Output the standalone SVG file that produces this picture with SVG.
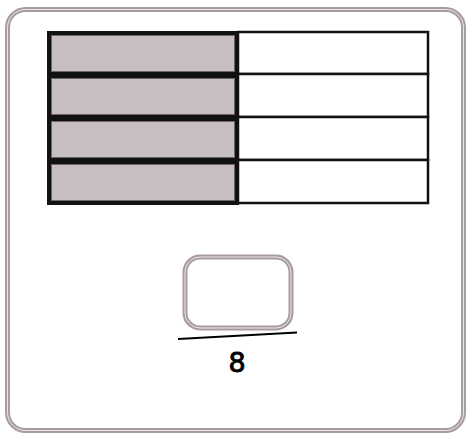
<svg xmlns="http://www.w3.org/2000/svg" width="468" height="434" viewBox="0 0 468 434">
<style>
.frame{fill:none;stroke:#a89c9c;stroke-width:5}
.frameIn{fill:none;stroke:#ece8e8;stroke-width:1}
.lc{fill:#c8c0c0;stroke:#111;stroke-width:4}
.lcIn{fill:none;stroke:#6e6666;stroke-width:1}
.rc{fill:#fff;stroke:#111;stroke-width:2.5}
.lbl{font-family:"DejaVu Sans","Liberation Sans",sans-serif;font-size:27px;fill:#000;stroke:#000;stroke-width:0.9;text-anchor:middle}
</style>
<rect width="468" height="434" fill="#fff"/>
<g id="frame">
<rect class="frame" x="7.5" y="9.5" width="456" height="421" rx="18"/>
<rect class="frameIn" x="7.5" y="9.5" width="456" height="421" rx="18"/>
</g>
<g id="table">
<g id="row1">
<rect class="rc" x="238" y="32" width="190" height="42"/>
<rect class="lc" x="49" y="33" width="188" height="41"/>
<rect class="lcIn" x="51.5" y="35.5" width="183" height="36"/>
</g>
<g id="row2">
<rect class="rc" x="238" y="74" width="190" height="43"/>
<rect class="lc" x="49" y="76" width="188" height="41"/>
<rect class="lcIn" x="51.5" y="78.5" width="183" height="36"/>
</g>
<g id="row3">
<rect class="rc" x="238" y="117" width="190" height="43"/>
<rect class="lc" x="49" y="119" width="188" height="41"/>
<rect class="lcIn" x="51.5" y="121.5" width="183" height="36"/>
</g>
<g id="row4">
<rect class="rc" x="238" y="160" width="190" height="43"/>
<rect class="lc" x="49" y="162" width="188" height="41"/>
<rect class="lcIn" x="51.5" y="164.5" width="183" height="36"/>
</g>
</g>
<g id="box">
<rect class="frame" x="185" y="257" width="106" height="71" rx="15"/>
<rect class="frameIn" x="185" y="257" width="106" height="71" rx="15"/>
</g>
<g id="connectors">
<line x1="178" y1="339" x2="297" y2="332.5" stroke="#000" stroke-width="2"/>
</g>
<g id="label">
<text class="lbl" x="237" y="372">8</text>
</g>
</svg>
